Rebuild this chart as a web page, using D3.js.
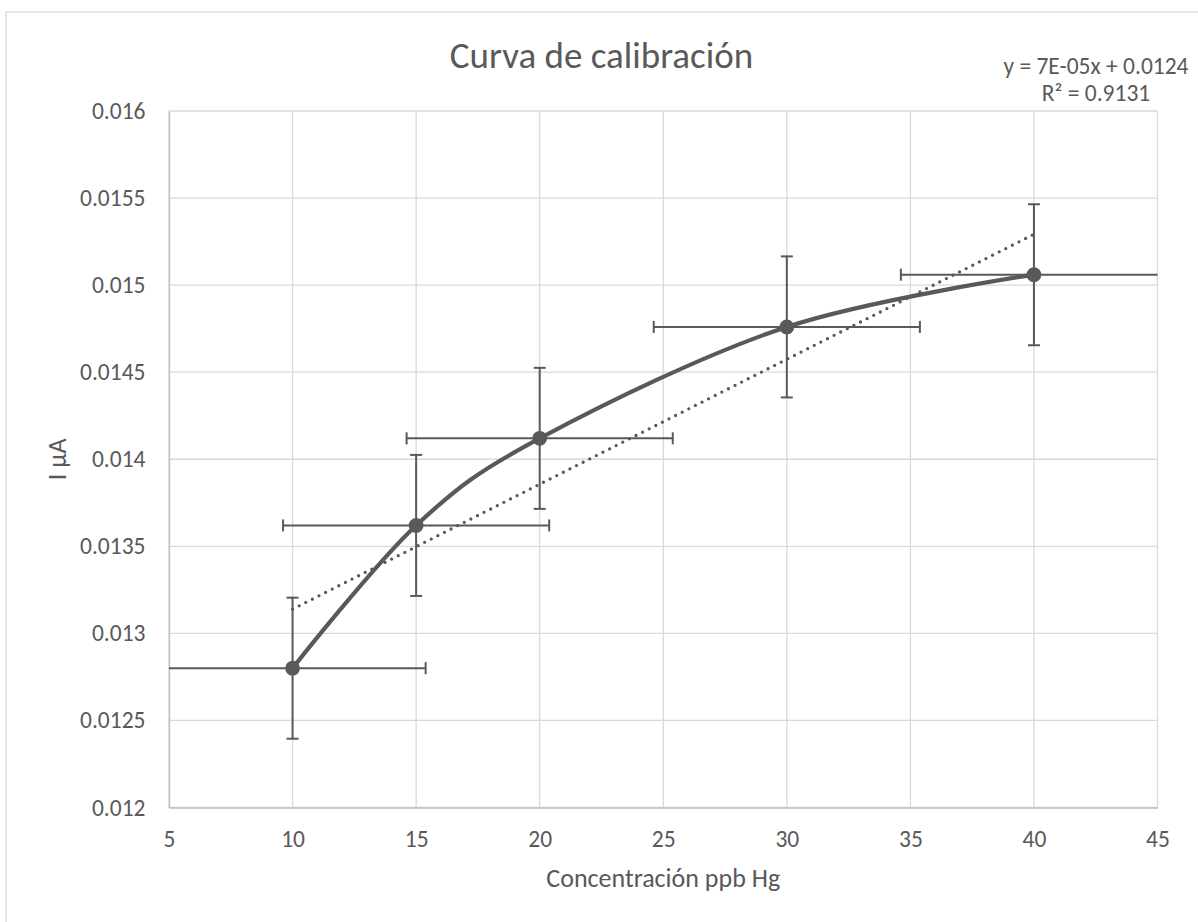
<!DOCTYPE html>
<html>
<head>
<meta charset="utf-8">
<script src="https://cdn.jsdelivr.net/npm/d3@7"></script>
<style>
  body { margin: 0; background: #fff; }
  svg { display: block; }
  text { font-family: Calibri, Carlito, Lato, sans-serif; fill: #595959; }
</style>
</head>
<body>
<svg id="chart" width="1198" height="922"></svg>
<script>
// Calibration standards (ppb Hg) and measured current (µA)
const concentration = [10, 15, 20, 30, 40];
const current = [0.0128, 0.01362, 0.01412, 0.01476, 0.01506];

// Standard-error bars on both axes
const xError = [5.385, 5.385, 5.385, 5.385, 5.385];
const yError = [0.000405, 0.000405, 0.000405, 0.000405, 0.000405];

// Axis ticks
const xTicks = [5, 10, 15, 20, 25, 30, 35, 40, 45];
const yTicks = [0.012, 0.0125, 0.013, 0.0135, 0.014, 0.0145, 0.015, 0.0155, 0.016];
const yTickLabels = ["0.012", "0.0125", "0.013", "0.0135", "0.014", "0.0145", "0.015", "0.0155", "0.016"];

// Texts
const chartTitle = "Curva de calibración";
const xTitle = "Concentración ppb Hg";
const yTitle = "I µA";
const trendEquation = "y = 7E-05x + 0.0124";
const trendR2 = "R² = 0.9131";

const ink = "#595959";
const tickSize = 23.5;
const svg = d3.select("#chart");

const plot = { left: 169, right: 1157.5, top: 111, bottom: 807.5 };

const x = d3.scaleLinear().domain([5, 45]).range([plot.left, plot.right]);
const y = d3.scaleLinear().domain([0.012, 0.016]).range([plot.bottom, plot.top]);

// Chart frame
svg.append("rect")
  .attr("x", 6).attr("y", 12)
  .attr("width", 1260).attr("height", 960)
  .attr("fill", "#fff").attr("stroke", "#d9d9d9").attr("stroke-width", 1.3);

// Gridlines
const grid = svg.append("g").attr("stroke", "#d9d9d9").attr("stroke-width", 1.3);
grid.selectAll("line.v").data(xTicks).join("line").attr("class", "v")
  .attr("x1", d => x(d)).attr("x2", d => x(d))
  .attr("y1", plot.top).attr("y2", plot.bottom);
grid.selectAll("line.h").data(yTicks).join("line").attr("class", "h")
  .attr("x1", plot.left).attr("x2", plot.right)
  .attr("y1", d => y(d)).attr("y2", d => y(d));

// Axes
const xAxis = svg.append("g")
  .attr("transform", `translate(0,${plot.bottom})`)
  .call(d3.axisBottom(x).tickValues(xTicks).tickSize(0).tickPadding(23).tickFormat(d3.format("d")));
const yAxis = svg.append("g")
  .attr("transform", `translate(${plot.left},0)`)
  .call(d3.axisLeft(y).tickValues(yTicks).tickSize(0).tickPadding(23.5)
    .tickFormat((d, i) => yTickLabels[i]));
[xAxis, yAxis].forEach(g => {
  g.select(".domain").attr("stroke", "#bfbfbf").attr("stroke-width", 1.3);
  g.selectAll("text").attr("font-size", tickSize).attr("fill", ink)
    .attr("font-family", "Calibri, Carlito, Lato, sans-serif");
});

// Clip to plot area
svg.append("clipPath").attr("id", "plotClip")
  .append("rect")
  .attr("x", plot.left).attr("y", plot.top)
  .attr("width", plot.right - plot.left).attr("height", plot.bottom - plot.top);

const points = concentration.map((c, i) => ({ x: c, y: current[i], ex: xError[i], ey: yError[i] }));
const layer = svg.append("g").attr("clip-path", "url(#plotClip)");

// Error bars
const cap = 6;
const eb = layer.append("g").attr("stroke", ink).attr("stroke-width", 2).attr("fill", "none");
points.forEach(p => {
  eb.append("line").attr("x1", x(p.x - p.ex)).attr("x2", x(p.x + p.ex))
    .attr("y1", y(p.y)).attr("y2", y(p.y));
  eb.append("line").attr("x1", x(p.x)).attr("x2", x(p.x))
    .attr("y1", y(p.y - p.ey)).attr("y2", y(p.y + p.ey));
  [p.x - p.ex, p.x + p.ex].forEach(v => {
    if (v >= 5 && v <= 45) {
      eb.append("line").attr("x1", x(v)).attr("x2", x(v))
        .attr("y1", y(p.y) - cap).attr("y2", y(p.y) + cap);
    }
  });
  [p.y - p.ey, p.y + p.ey].forEach(v => {
    eb.append("line").attr("x1", x(p.x) - cap).attr("x2", x(p.x) + cap)
      .attr("y1", y(v)).attr("y2", y(v));
  });
});

// Smoothed series line
layer.append("path")
  .datum(points)
  .attr("fill", "none").attr("stroke", ink).attr("stroke-width", 4.2)
  .attr("stroke-linecap", "round")
  .attr("d", d3.line().x(d => x(d.x)).y(d => y(d.y)).curve(d3.curveCardinal.tension(0)));

// Markers
layer.selectAll("circle.marker").data(points).join("circle")
  .attr("class", "marker")
  .attr("cx", d => x(d.x)).attr("cy", d => y(d.y)).attr("r", 7.4)
  .attr("fill", ink);

// Linear trendline (least squares)
const mx = d3.mean(concentration), my = d3.mean(current);
const sxy = d3.sum(concentration, (c, i) => (c - mx) * (current[i] - my));
const sxx = d3.sum(concentration, c => (c - mx) ** 2);
const slope = sxy / sxx;
const intercept = my - slope * mx;
const [xmin, xmax] = d3.extent(concentration);
layer.append("line")
  .attr("x1", x(xmin)).attr("y1", y(intercept + slope * xmin))
  .attr("x2", x(xmax)).attr("y2", y(intercept + slope * xmax))
  .attr("stroke", ink).attr("stroke-width", 3.3)
  .attr("stroke-linecap", "round").attr("stroke-dasharray", "0 7.4");

// Title
svg.append("text")
  .attr("x", 601.5).attr("y", 68)
  .attr("text-anchor", "middle").attr("font-size", 37)
  .text(chartTitle);

// Trendline label
const eq = svg.append("text").attr("text-anchor", "middle").attr("font-size", tickSize);
eq.append("tspan").attr("x", 1096).attr("y", 74).text(trendEquation);
eq.append("tspan").attr("x", 1096).attr("y", 101).text(trendR2);

// Axis titles
svg.append("text")
  .attr("x", (plot.left + plot.right) / 2).attr("y", 886.5)
  .attr("text-anchor", "middle").attr("font-size", 26)
  .text(xTitle);
svg.append("text")
  .attr("transform", `translate(66,${(plot.top + plot.bottom) / 2}) rotate(-90)`)
  .attr("text-anchor", "middle").attr("font-size", 26)
  .text(yTitle);
</script>
</body>
</html>
